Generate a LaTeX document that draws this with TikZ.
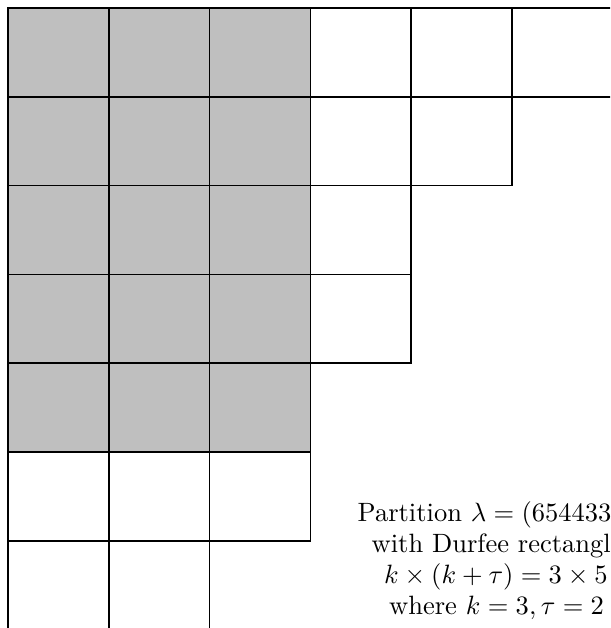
\documentclass[tikz,border=0pt]{standalone}
\usepackage{graphicx}
\begin{document}
\begin{tikzpicture}[x=1pt,y=-1pt,
  cellbox/.style={draw=black,line width=1.5pt},
  durfee/.style={fill=lightgray},
  txt/.style={inner sep=0pt,anchor=base west,font=\normalsize}]
\useasboundingbox (0,0) rectangle (610,628);
\clip (0,0) rectangle (610,628);
\def\cw{100.8}
\def\ch{88.8}
% Durfee rectangle 3 x 5
\fill[durfee] (8,8) rectangle ++(3*\cw,5*\ch);
% Young diagram rows
\foreach \len [count=\r from 0] in {6,5,4,4,3,3,2} {
  \foreach \c in {1,...,\len} {
    \draw[cellbox] ({8+(\c-1)*\cw},{8+\r*\ch}) rectangle ++(\cw,\ch);
  }
}
\node[txt] (l1) at (357.5,521) {\scalebox{2.65}{Partition $\lambda = (654433$}};
\node[txt] (l2) at (371.5,552) {\scalebox{2.65}{with Durfee rectangl}};
\node[txt] (l3) at (384,583) {\scalebox{2.65}{$k\times(k+\tau)=3\times5$}};
\node[txt] (l4) at (389,614) {\scalebox{2.65}{where $k=3,\tau=2$}};
\end{tikzpicture}
\end{document}
